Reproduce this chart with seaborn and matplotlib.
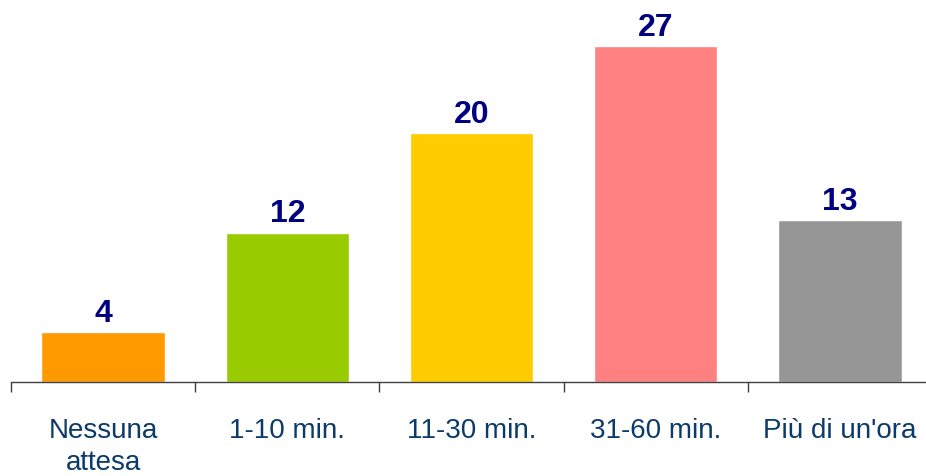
import matplotlib
matplotlib.use("Agg")
import matplotlib.pyplot as plt
import seaborn as sns
import pandas as pd
from matplotlib.ticker import FixedLocator

categories = ["Nessuna\nattesa", "1-10 min.", "11-30 min.", "31-60 min.", "Più di un'ora"]
values = [4, 12, 20, 27, 13]
colors = ["#FF9900", "#99CC00", "#FFCC00", "#FF8080", "#969696"]

sns.set_theme(style="white")
plt.rcParams['font.family'] = ['Liberation Sans', 'DejaVu Sans']

df = pd.DataFrame({"cat": categories, "val": values})

fig = plt.figure(figsize=(9.26, 4.77), dpi=100)
ax = fig.add_axes([11/926, 94/477, 921/926, 373.5/477])

sns.barplot(data=df, x="cat", y="val", hue="cat", palette=colors, legend=False,
            width=0.67, saturation=1, ax=ax)

ax.set_xlim(-0.5, len(categories) - 0.5)
ax.set_ylim(0, 30)

for i, v in enumerate(values):
    ax.annotate(str(v), (i, v), xytext=(0, 3), textcoords="offset points",
                ha="center", va="bottom", fontsize=23, fontweight="bold", color="#000080")

ax.set_xlabel("")
ax.set_ylabel("")
ax.set_yticks([])
for s in ["top", "right", "left"]:
    ax.spines[s].set_visible(False)
ax.spines["bottom"].set_color("#404040")
ax.spines["bottom"].set_linewidth(1.0)

ax.xaxis.set_minor_locator(FixedLocator([i - 0.5 for i in range(len(categories) + 1)]))
ax.tick_params(axis="x", which="minor", direction="out", length=7.5, width=1.0,
               color="#404040", bottom=True)
ax.tick_params(axis="x", which="major", length=0, pad=25, labelsize=20, labelcolor="#0B3A6B")
for lbl in ax.get_xticklabels():
    lbl.set_linespacing(1.32)

fig.savefig("out.png", dpi=100, facecolor="white")
